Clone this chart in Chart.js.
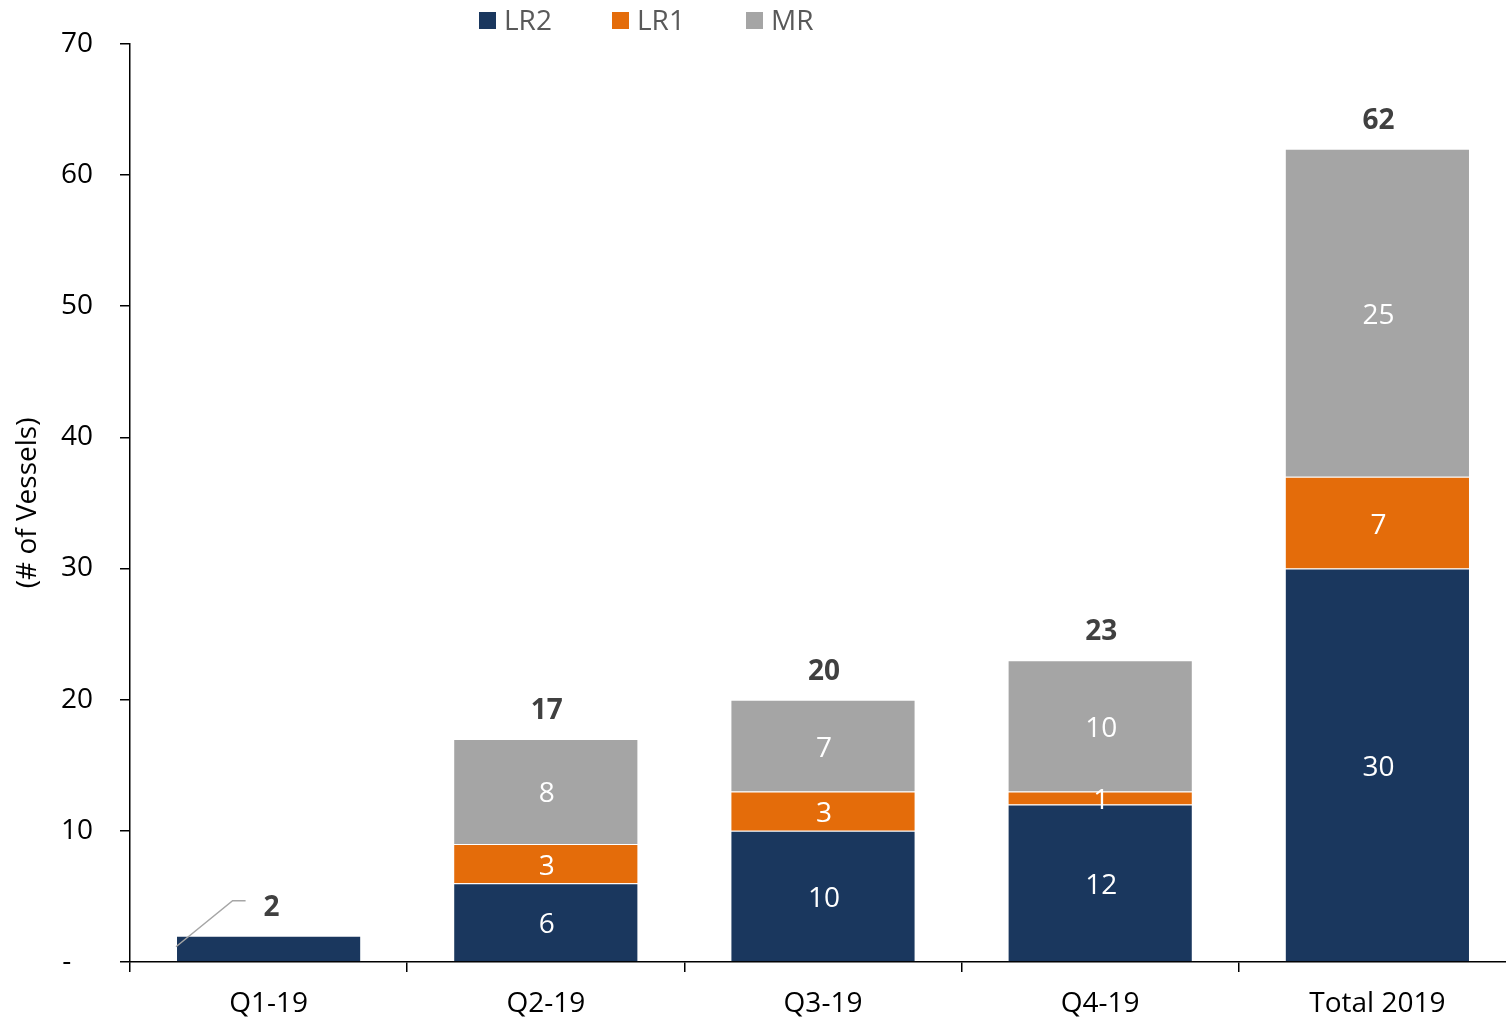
<!DOCTYPE html>
<html>
<head>
<meta charset="utf-8">
<script src="https://cdn.jsdelivr.net/npm/chart.js@4"></script>
<style>
  html, body { margin: 0; padding: 0; background: #fff; overflow: hidden; }
  #wrap { width: 1516px; height: 1018px; position: relative; }
</style>
</head>
<body>
<div id="wrap"><canvas id="c"></canvas></div>
<script>
const categories = ['Q1-19', 'Q2-19', 'Q3-19', 'Q4-19', 'Total 2019'];
const lr2 = [2, 6, 10, 12, 30];
const lr1 = [0, 3, 3, 1, 7];
const mr  = [0, 8, 7, 10, 25];
const seriesNames = ['LR2', 'LR1', 'MR'];
const seriesColors = ['#1a375e', '#e46c0a', '#a5a5a5'];
const yAxisTitle = '(# of Vessels)';

const FONT = "'Open Sans', 'DejaVu Sans', sans-serif";
const FS = 28;
const totals = categories.map((_, i) => lr2[i] + lr1[i] + mr[i]);

const labelPlugin = {
  id: 'labels',
  afterDatasetsDraw(chart) {
    const ctx = chart.ctx;
    const area = chart.chartArea;
    ctx.save();
    ctx.font = FS + 'px ' + FONT;
    ctx.fillStyle = '#ffffff';
    ctx.textAlign = 'center';
    ctx.textBaseline = 'middle';
    chart.data.datasets.forEach((ds, di) => {
      const meta = chart.getDatasetMeta(di);
      meta.data.forEach((bar, i) => {
        const v = ds.data[i];
        if (!v) return;
        if (v === totals[i]) return;
        const p = bar.getProps(['x', 'y', 'base'], true);
        ctx.fillText(String(v), p.x + 1, (p.y + p.base) / 2 + 3);
      });
    });
    ctx.font = 'bold ' + FS + 'px ' + FONT;
    ctx.fillStyle = '#404040';
    categories.forEach((c, i) => {
      let topY = Infinity, x = 0, w = 0;
      chart.data.datasets.forEach((ds, di) => {
        const b = chart.getDatasetMeta(di).data[i];
        const p = b.getProps(['x', 'y', 'width'], true);
        if (ds.data[i] && p.y < topY) { topY = p.y; }
        x = p.x; w = p.width;
      });
      const ly = topY - 28;
      const single = totals[i] === lr2[i];
      const lx = single ? x + 3 : x + 1;
      ctx.fillText(String(totals[i]), lx, ly);
      if (single) {
        ctx.strokeStyle = '#a6a6a6';
        ctx.lineWidth = 1.5;
        ctx.beginPath();
        ctx.moveTo(x - w / 2, topY + 11);
        ctx.lineTo(x - 36, ly - 7);
        ctx.lineTo(x - 23, ly - 7);
        ctx.stroke();
      }
    });
    ctx.font = FS + 'px ' + FONT;
    ctx.textAlign = 'left';
    ctx.textBaseline = 'middle';
    const legX = [479, 612, 746];
    seriesNames.forEach((n, k) => {
      ctx.fillStyle = seriesColors[k];
      ctx.fillRect(legX[k], 12, 17, 17);
      ctx.fillStyle = '#595959';
      ctx.fillText(n, legX[k] + 25, 22);
    });
    ctx.save();
    ctx.translate(28, (area.top + area.bottom) / 2);
    ctx.rotate(-Math.PI / 2);
    ctx.textAlign = 'center';
    ctx.fillStyle = '#000000';
    ctx.fillText(yAxisTitle, 0, 0);
    ctx.restore();
    ctx.restore();
  }
};

const datasets = [lr2, lr1, mr].map((d, k) => ({
  label: seriesNames[k],
  data: d,
  backgroundColor: seriesColors[k],
  borderColor: 'rgba(255,255,255,0.55)',
  borderWidth: 1,
  barPercentage: 0.668,
  categoryPercentage: 1.0
}));

new Chart(document.getElementById('c'), {
  type: 'bar',
  data: { labels: categories, datasets },
  options: {
    responsive: true,
    maintainAspectRatio: false,
    animation: false,
    layout: { padding: { top: 43, left: 0, right: 0, bottom: 0 } },
    plugins: { legend: { display: false }, tooltip: { enabled: false } },
    scales: {
      x: {
        stacked: true,
        afterFit(s) { s.height = 56; },
        grid: { offset: true, drawOnChartArea: false, drawTicks: true, tickLength: 10, color: '#000', lineWidth: 1.5 },
        border: { display: true, color: '#000', width: 1.5 },
        ticks: { color: '#000', font: { family: FONT, size: FS }, padding: 15 }
      },
      y: {
        stacked: true,
        min: 0, max: 70,
        afterFit(s) { s.width = 130; },
        grid: { drawOnChartArea: false, drawTicks: true, tickLength: 10, color: '#000', lineWidth: 1.5 },
        border: { display: true, color: '#000', width: 1.5 },
        ticks: {
          stepSize: 10,
          color: '#000',
          font: { family: FONT, size: FS },
          padding: 27,
          callback: v => v === 0 ? '-   ' : String(v)
        }
      }
    }
  },
  plugins: [labelPlugin]
});
</script>
</body>
</html>
